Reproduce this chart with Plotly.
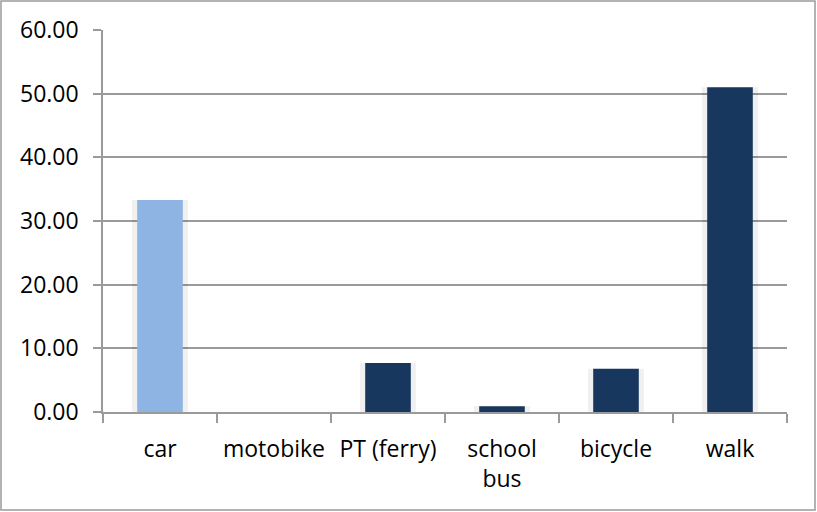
import plotly.graph_objects as go

categories = ["car", "motobike", "PT (ferry)", "school<br>bus", "bicycle", "walk"]
values = [33.3, 0.0, 7.7, 0.9, 6.8, 51.0]
colors = ["#8EB4E3", "#17375E", "#17375E", "#17375E", "#17375E", "#17375E"]
tick_values = [0, 10, 20, 30, 40, 50, 60]
tick_labels = ["0.00", "10.00", "20.00", "30.00", "40.00", "50.00", "60.00"]

W, H = 817, 512
L, R, T, B = 103, 30, 30, 100
pw, ph = W - L - R, H - T - B

fig = go.Figure()
# soft shadow behind the bars
fig.add_trace(go.Bar(x=categories, y=values, width=0.49,
                     marker=dict(color="rgba(0,0,0,0.06)", line=dict(width=0)),
                     hoverinfo="skip", showlegend=False))
fig.add_trace(go.Bar(x=categories, y=values, width=0.40,
                     marker=dict(color=colors, line=dict(width=0)),
                     showlegend=False))

fig.update_layout(
    width=W, height=H,
    margin=dict(l=L, r=R, t=T, b=B),
    paper_bgcolor="white", plot_bgcolor="white",
    barmode="overlay",
    font=dict(family="Open Sans, Noto Sans, sans-serif", size=23, color="black"),
    xaxis=dict(
        showline=True, linecolor="#9a9a9a", linewidth=1.5,
        ticks="outside", ticklen=9, tickcolor="#9a9a9a", tickwidth=1.5,
        tickson="boundaries", showgrid=False,
        ticklabelstandoff=16,
    ),
    yaxis=dict(
        range=[0, 60], tickvals=tick_values, ticktext=tick_labels,
        showline=True, linecolor="#9a9a9a", linewidth=1.5,
        ticks="outside", ticklen=8, tickcolor="#9a9a9a", tickwidth=1.5,
        showgrid=True, gridcolor="#9a9a9a", gridwidth=1.5,
        zeroline=False, ticklabelstandoff=10,
    ),
    shapes=[dict(type="rect", xref="paper", yref="paper",
                 x0=(1 - L) / pw, x1=(W - 2 - L) / pw,
                 y0=-(B - 2) / ph, y1=1 + (T - 1) / ph,
                 line=dict(color="#9a9a9a", width=1.5), layer="below")],
)

fig.write_html("out.html", config={"displayModeBar": False},
               post_script="document.body.style.margin='0px';")
